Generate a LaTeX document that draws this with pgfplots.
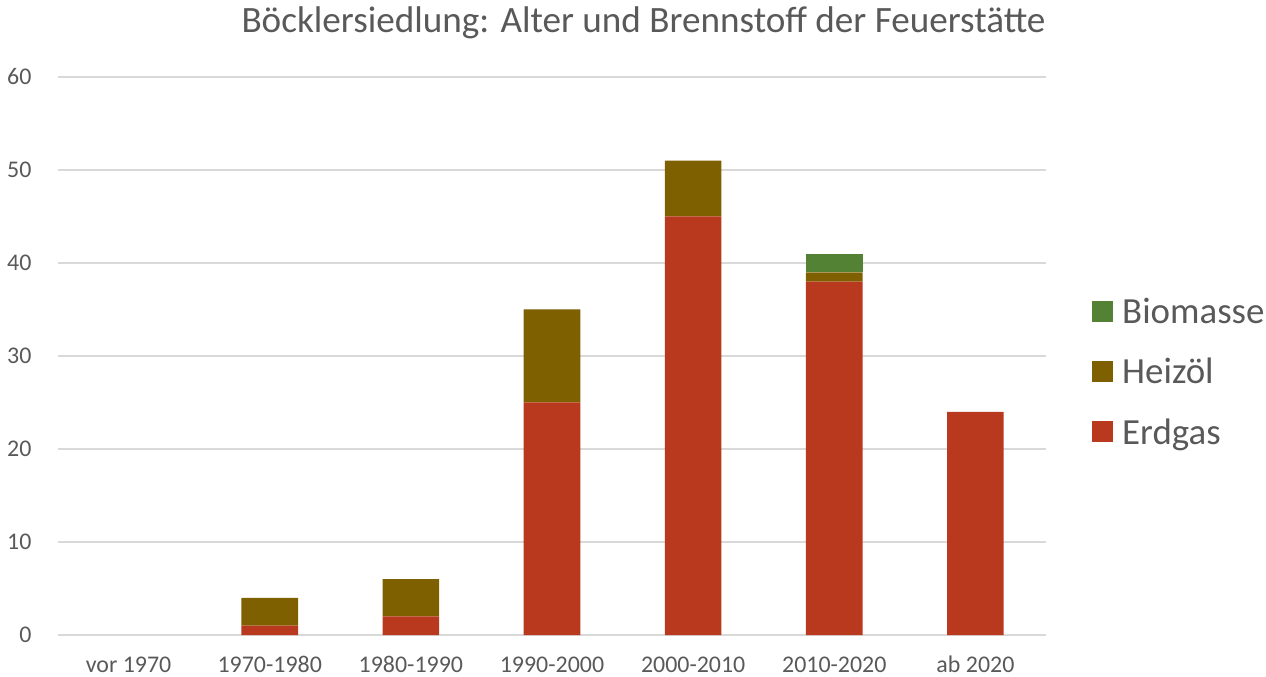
\documentclass[border=0pt]{standalone}
\usepackage{pgfplots}
\pgfplotsset{compat=1.18}
\usepackage{fontspec}
\setmainfont{Carlito}
\definecolor{erdgas}{RGB}{185,57,31}
\definecolor{heizoel}{RGB}{127,96,0}
\definecolor{biomasse}{RGB}{84,130,53}
\definecolor{txt}{RGB}{89,89,89}
\definecolor{gridc}{RGB}{217,217,217}
\begin{document}
\begin{tikzpicture}
\begin{axis}[
  width=988bp, height=558bp, scale only axis,
  xmin=-0.5, xmax=6.5, ymin=0, ymax=60,
  ybar stacked, bar width=56.6bp,
  xtick={0,1,2,3,4,5,6},
  xticklabels={vor 1970,1970-1980,1980-1990,1990-2000,2000-2010,2010-2020,ab 2020},
  ytick={0,10,20,30,40,50,60},
  ymajorgrids,
  major grid style={draw=gridc, line width=1.5bp},
  axis line style={draw=none},
  tick style={draw=none},
  ticklabel style={font=\fontsize{24}{28}\selectfont, text=txt},
  xticklabel style={anchor=base, yshift=-37bp},
  yticklabel style={anchor=base east, xshift=-23bp, yshift=-7.5bp},
  /pgf/number format/assume math mode=true,
  clip=false,
  reverse legend,
  legend cell align=left,
  legend image code/.code={\fill[#1] (0bp,-10.5bp) rectangle (21bp,10.5bp);},
  legend style={at={(rel axis cs:1.0466,0.4713)}, anchor=west, draw=none, fill=none,
    font=\fontsize{37}{44}\selectfont, text=txt, inner sep=0pt, row sep=29bp,
    /tikz/every odd column/.append style={column sep=7bp}},
]
\addplot[fill=erdgas, draw=none] coordinates {(0,0) (1,1) (2,2) (3,25) (4,45) (5,38) (6,24)};
\addlegendentry{Erdgas}
\addplot[fill=heizoel, draw=none] coordinates {(0,0) (1,3) (2,4) (3,10) (4,6) (5,1) (6,0)};
\addlegendentry{Heizöl}
\addplot[fill=biomasse, draw=none] coordinates {(0,0) (1,0) (2,0) (3,0) (4,0) (5,2) (6,0)};
\addlegendentry{Biomasse}
\node[anchor=base, font=\fontsize{37.3}{44}\selectfont, text=txt] at (rel axis cs:0.5926,1.0789) {Böcklersiedlung: Alter und Brennstoff der Feuerstätte};
\coordinate (bl) at (rel axis cs:0,0);
\coordinate (tr) at (rel axis cs:1,1);
\end{axis}
\pgfresetboundingbox
\path[use as bounding box] ([shift={(-58bp,-42bp)}]bl) rectangle ([shift={(220bp,77bp)}]tr);
\end{tikzpicture}
\end{document}
